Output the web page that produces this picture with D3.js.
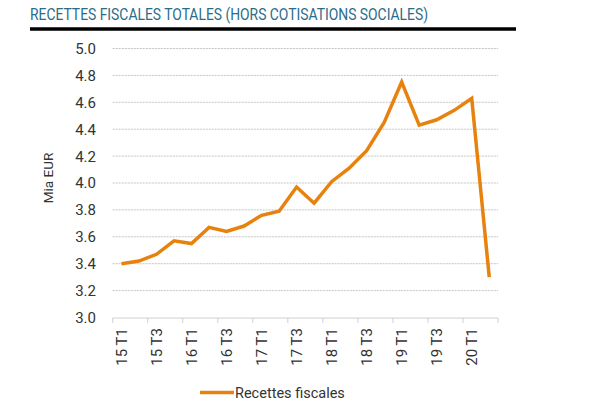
<!DOCTYPE html>
<html>
<head>
<meta charset="utf-8">
<script src="https://cdn.jsdelivr.net/npm/d3@7"></script>
<style>
  body { margin: 0; background: #fff; }
  svg { display: block; }
  text { font-family: Roboto, "Noto Sans", sans-serif; fill: #333; }
</style>
</head>
<body>
<svg id="chart" width="600" height="403"></svg>
<script>
// quarters 2015 T1 .. 2020 T2
const quarters = [
  '15 T1', '15 T2', '15 T3', '15 T4',
  '16 T1', '16 T2', '16 T3', '16 T4',
  '17 T1', '17 T2', '17 T3', '17 T4',
  '18 T1', '18 T2', '18 T3', '18 T4',
  '19 T1', '19 T2', '19 T3', '19 T4',
  '20 T1', '20 T2',
];
// Mia EUR
const recettes = [
  3.40, 3.42, 3.47, 3.57, 3.55, 3.67, 3.64, 3.68, 3.76, 3.79, 3.97,
  3.85, 4.01, 4.11, 4.24, 4.45, 4.75, 4.43, 4.47, 4.54, 4.63, 3.30,
];
const yTicks = [3.0, 3.2, 3.4, 3.6, 3.8, 4.0, 4.2, 4.4, 4.6, 4.8, 5.0];

const title = 'RECETTES FISCALES TOTALES (HORS COTISATIONS SOCIALES)';
const yLabel = 'Mia EUR';
const seriesName = 'Recettes fiscales';
const orange = '#e8820e';

const svg = d3.select('#chart');

const x = d3.scaleBand().domain(quarters).range([112.7, 498]);
const y = d3.scaleLinear().domain([3.0, 5.0]).range([317.5, 48.5]);

// title + heavy rule
svg.append('text')
  .attr('x', 30).attr('y', 19.5)
  .attr('textLength', 398).attr('lengthAdjust', 'spacingAndGlyphs')
  .style('font-size', '16.5px')
  .style('fill', '#2b6c88')
  .text(title);

svg.append('line')
  .attr('x1', 30).attr('x2', 516)
  .attr('y1', 29).attr('y2', 29)
  .attr('stroke', '#000').attr('stroke-width', 3.5);

// grid
svg.append('g').selectAll('line')
  .data(yTicks.slice(1))
  .enter().append('line')
  .attr('x1', 112.7).attr('x2', 498)
  .attr('y1', d => y(d)).attr('y2', d => y(d))
  .attr('stroke', '#c4c4c4').attr('stroke-width', 1)
  .attr('stroke-dasharray', '2,1');

// y labels
svg.append('g').selectAll('text')
  .data(yTicks)
  .enter().append('text')
  .attr('x', 96).attr('y', d => y(d))
  .attr('dy', '0.36em')
  .attr('text-anchor', 'end')
  .style('font-size', '15px')
  .text(d => d.toFixed(1));

svg.append('text')
  .attr('transform', 'translate(53,178) rotate(-90)')
  .attr('text-anchor', 'middle')
  .style('font-size', '13.5px')
  .text(yLabel);

// x axis: ticks every two quarters, at band edges
const tickPos = quarters.filter((q, i) => i % 2 === 0).map(q => x(q)).concat([x.range()[1]]);
const xAxis = svg.append('g');
xAxis.append('line')
  .attr('x1', 112.7).attr('x2', 498)
  .attr('y1', 318).attr('y2', 318)
  .attr('stroke', '#d0d0d0');
xAxis.selectAll('line.tick')
  .data(tickPos)
  .enter().append('line')
  .attr('class', 'tick')
  .attr('x1', d => d).attr('x2', d => d)
  .attr('y1', 318).attr('y2', 323)
  .attr('stroke', '#d0d0d0');
xAxis.selectAll('text')
  .data(quarters.filter((q, i) => i % 2 === 0))
  .enter().append('text')
  .attr('transform', d => `translate(${x(d) + x.bandwidth() / 2},328) rotate(-90)`)
  .attr('text-anchor', 'end')
  .attr('dy', '0.36em')
  .style('font-size', '15px')
  .text(d => d);

// series
const line = d3.line()
  .x((d, i) => x(quarters[i]) + x.bandwidth() / 2)
  .y(d => y(d));

svg.append('path')
  .datum(recettes)
  .attr('d', line)
  .attr('fill', 'none')
  .attr('stroke', orange)
  .attr('stroke-width', 3.5)
  .attr('stroke-linejoin', 'miter');

// legend
svg.append('line')
  .attr('x1', 200).attr('x2', 234)
  .attr('y1', 392.5).attr('y2', 392.5)
  .attr('stroke', orange).attr('stroke-width', 3.5);
svg.append('text')
  .attr('x', 235).attr('y', 398)
  .style('font-size', '14.5px')
  .text(seriesName);
</script>
</body>
</html>
